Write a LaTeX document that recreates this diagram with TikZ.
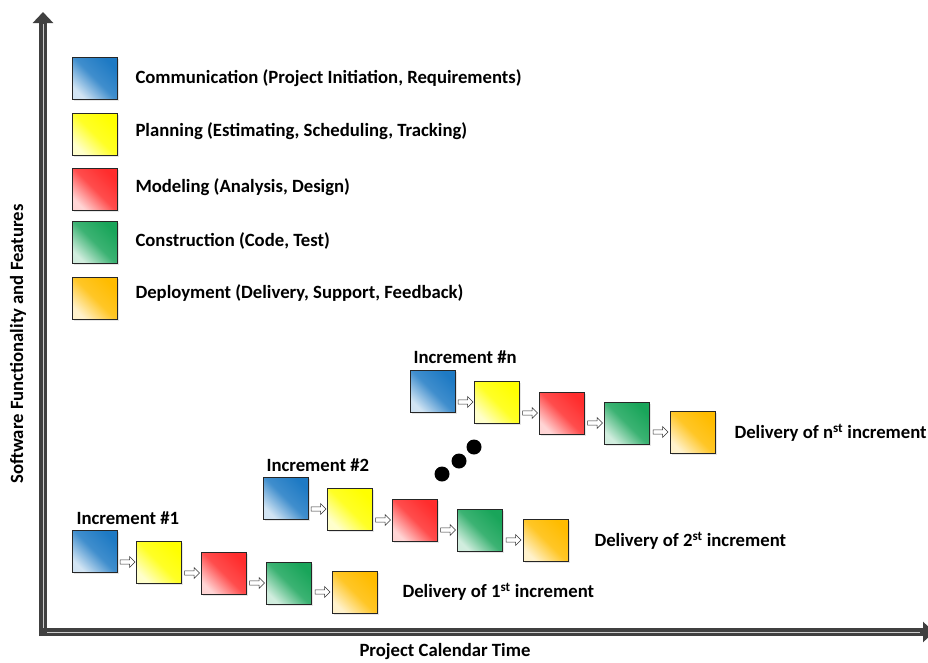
\documentclass[tikz,border=0pt]{standalone}
\usepackage{fontspec}
\setmainfont{Carlito}
\usetikzlibrary{arrows.meta,shapes.arrows,shadows,calc}

\definecolor{commblue}{RGB}{30,122,196}
\definecolor{planyellow}{RGB}{255,255,0}
\definecolor{modelred}{RGB}{255,45,45}
\definecolor{constgreen}{RGB}{25,165,90}
\definecolor{deployorange}{RGB}{255,188,0}
\definecolor{axisgray}{RGB}{64,64,64}

\tikzset{
  phase/.style={draw=gray!30!black, minimum width=45, minimum height=42,
    inner sep=0pt, bottom color=#1!20!white, top color=#1,
    middle color=#1!85!white, shading angle=-45,
    drop shadow={opacity=0.2, shadow xshift=1.5pt, shadow yshift=-1.5pt}},
  stepnext/.style={single arrow, draw=gray!40!black, fill=white,
    minimum height=15, minimum width=11, inner sep=1.2pt,
    single arrow head extend=2.5pt, line width=0.5pt},
  legendtext/.style={anchor=west, font=\fontsize{18.7}{22}\selectfont\bfseries},
  inctext/.style={anchor=west, font=\fontsize{18.7}{22}\selectfont\bfseries},
  axislabel/.style={font=\fontsize{18.7}{22}\selectfont\bfseries},
}

\begin{document}
\begin{tikzpicture}[x=1pt,y=1pt]
\useasboundingbox (0,0) rectangle (928,-662);
% axes
\coordinate (origin) at (43,-632);
\coordinate (ytop) at (43,-12);
\coordinate (xend) at (934,-632);
\draw [axisgray, line width=8pt, -{Triangle[width=20pt,length=11pt]}] (43,-636) -- (ytop);
\draw [axisgray, line width=8pt, -{Triangle[width=20pt,length=11pt]}] (39,-632) -- (xend);
\draw [gray!40, line width=0.8pt] (43,-628) -- (43,-24);
\draw [gray!40, line width=0.8pt] (47,-632) -- (920,-632);
\node [axislabel] (xlabel) at (445,-652) {Project Calendar Time};
\node [axislabel, rotate=90] (ylabel) at (18,-344) {Software Functionality and Features};
% legend
\node [phase=commblue] (comm) at (94.5,-78) {};
\node [legendtext] at (132,-78) {Communication (Project Initiation, Requirements)};
\node [phase=planyellow] (plan) at (94.5,-134) {};
\node [legendtext] at (132,-131) {Planning (Estimating, Scheduling, Tracking)};
\node [phase=modelred] (model) at (94.5,-189) {};
\node [legendtext] at (132,-187) {Modeling (Analysis, Design)};
\node [phase=constgreen] (constr) at (94.5,-242) {};
\node [legendtext] at (132,-241) {Construction (Code, Test)};
\node [phase=deployorange] (deploy) at (94.5,-298) {};
\node [legendtext] at (132,-293) {Deployment (Delivery, Support, Feedback)};
% increment 1
\node [inctext] (inc1) at (73,-518) {Increment \#1};
\node [phase=commblue] (b1) at (94.5,-551) {};
\node [phase=planyellow] (y1) at (158.5,-562) {};
\node [phase=modelred] (r1) at (223.5,-573) {};
\node [phase=constgreen] (g1) at (288.5,-583) {};
\node [phase=deployorange] (o1) at (354.5,-592) {};
\node [inctext] (d1) at (399,-592) {Delivery of 1\textsuperscript{st} increment};
\node [stepnext] at ($(b1.east |- y1.west)!0.5!(y1.west)$) {};
\node [stepnext] at ($(y1.east |- r1.west)!0.5!(r1.west)$) {};
\node [stepnext] at ($(r1.east |- g1.west)!0.5!(g1.west)$) {};
\node [stepnext] at ($(g1.east |- o1.west)!0.5!(o1.west)$) {};
% increment 2
\node [inctext] (inc2) at (263,-465) {Increment \#2};
\node [phase=commblue] (b2) at (285.5,-498) {};
\node [phase=planyellow] (y2) at (349.5,-509) {};
\node [phase=modelred] (r2) at (414.5,-520) {};
\node [phase=constgreen] (g2) at (479.5,-530) {};
\node [phase=deployorange] (o2) at (545.5,-540) {};
\node [inctext] (d2) at (591,-541) {Delivery of 2\textsuperscript{st} increment};
\node [stepnext] at ($(b2.east |- y2.west)!0.5!(y2.west)$) {};
\node [stepnext] at ($(y2.east |- r2.west)!0.5!(r2.west)$) {};
\node [stepnext] at ($(r2.east |- g2.west)!0.5!(g2.west)$) {};
\node [stepnext] at ($(g2.east |- o2.west)!0.5!(o2.west)$) {};
% increment n
\node [inctext] (incn) at (410,-357) {Increment \#n};
\node [phase=commblue] (bn) at (432.5,-391) {};
\node [phase=planyellow] (yn) at (496.5,-402) {};
\node [phase=modelred] (rn) at (561.5,-413) {};
\node [phase=constgreen] (gn) at (626.5,-423) {};
\node [phase=deployorange] (on) at (692.5,-432) {};
\node [inctext] (dn) at (731,-433) {Delivery of n\textsuperscript{st} increment};
\node [stepnext] at ($(bn.east |- yn.west)!0.5!(yn.west)$) {};
\node [stepnext] at ($(yn.east |- rn.west)!0.5!(rn.west)$) {};
\node [stepnext] at ($(rn.east |- gn.west)!0.5!(gn.west)$) {};
\node [stepnext] at ($(gn.east |- on.west)!0.5!(on.west)$) {};
% dots
\fill (442,-474) circle (7.5);
\fill (459,-461) circle (7.5);
\fill (474,-447) circle (7.5);
\end{tikzpicture}
\end{document}
